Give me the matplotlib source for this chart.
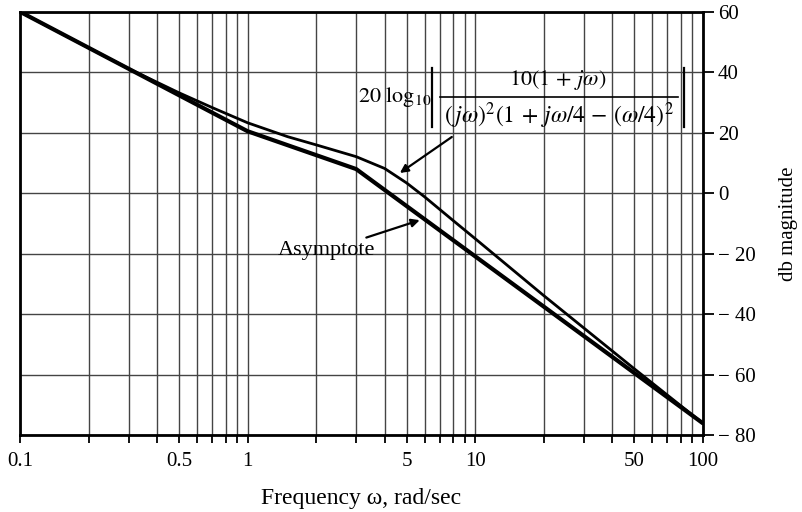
import matplotlib
matplotlib.use("Agg")
import matplotlib.pyplot as plt
from matplotlib.lines import Line2D
import numpy as np

plt.rcParams['font.family'] = ['Liberation Serif', 'DejaVu Serif']
plt.rcParams['mathtext.fontset'] = 'stix'

# Data
freq_actual = [0.1, 0.2, 0.3, 0.5, 0.7, 1, 1.5, 2, 3, 4, 5, 6, 8, 10, 20, 50, 100]
db_actual = [60, 48.1, 41.2, 33.2, 28.3, 23.3, 18.7, 16.0, 12.1, 8.2, 3.4, -1.2,
             -9.0, -15.0, -33.8, -58.0, -76.0]
freq_asym = [0.1, 1, 3, 100]
db_asym = [60, 20.5, 8.0, -76.0]

grid_x = [0.1, 0.2, 0.3, 0.4, 0.5, 0.6, 0.7, 0.8, 0.9,
          1, 2, 3, 4, 5, 6, 7, 8, 9,
          10, 20, 30, 40, 50, 60, 70, 80, 90, 100]
x_labels = {0.1: "0.1", 0.5: "0.5", 1: "1", 5: "5", 10: "10", 50: "50", 100: "100"}
y_ticks = [60, 40, 20, 0, -20, -40, -60, -80]
y_labels = ["60", "40", "20", "0", "\u2212 20", "\u2212 40", "\u2212 60", "\u2212 80"]

W, H = 803, 512
fig = plt.figure(figsize=(W / 100, H / 100), dpi=100)
ax = fig.add_axes([0.025, 0.150, 0.850, 0.827])
ax.set_xscale('log')
ax.set_xlim(0.1, 100)
ax.set_ylim(-80, 60)

ax.set_xticks(grid_x)
ax.set_xticklabels([x_labels.get(v, "") for v in grid_x])
ax.xaxis.set_minor_locator(matplotlib.ticker.NullLocator())
ax.set_yticks(y_ticks)
ax.set_yticklabels(y_labels)
ax.yaxis.tick_right()
ax.yaxis.set_label_position('right')

ax.tick_params(axis='x', direction='out', length=6, width=1.3, labelsize=15, pad=6)
ax.tick_params(axis='y', direction='out', length=8, width=1.3, labelsize=15, pad=3,
               left=False, right=True)
ax.grid(True, which='major', color='#444444', linewidth=1.0)
for s in ax.spines.values():
    s.set_linewidth(2.0)
    s.set_color('black')

ax.plot(freq_actual, db_actual, color='black', linewidth=2.0, solid_capstyle='round')
ax.plot(freq_asym, db_asym, color='black', linewidth=3.0, solid_capstyle='round')

ax.set_xlabel("Frequency \u03c9, rad/sec", fontsize=17, labelpad=12)
ax.set_ylabel("db magnitude", fontsize=15, labelpad=17)


def fx(px):
    return px / W


def fy(py):
    return 1 - py / H


# Formula annotation: 20 log10 | num / den |
fig.text(fx(395), fy(97), r"$20\ \log_{10}$", fontsize=16, ha='center', va='center')
fig.text(fx(558), fy(80), r"$10(1\,+\,j\omega)$", fontsize=16, ha='center', va='center')
fig.text(fx(559), fy(116), r"$(\,j\omega)^2(1\,+\,j\omega/4\,-\,(\omega/4)^2$",
         fontsize=17, ha='center', va='center')
fig.add_artist(Line2D([fx(440), fx(678)], [fy(97), fy(97)], color='black', lw=1.2))
for bx in (432, 684):
    fig.add_artist(Line2D([fx(bx), fx(bx)], [fy(68), fy(127)], color='black', lw=1.6))

ax.annotate('', xy=(4.67, 6.7), xytext=(7.9, 18.6),
            arrowprops=dict(arrowstyle='-|>', color='black', lw=1.6,
                            mutation_scale=12, shrinkA=0, shrinkB=0))
ax.annotate('Asymptote', xy=(5.71, -8.9), xytext=(3.62, -19.0),
            fontsize=16, ha='right', va='center',
            arrowprops=dict(arrowstyle='-|>', color='black', lw=1.6,
                            mutation_scale=12, shrinkA=2, shrinkB=0))

fig.savefig("out.png", dpi=100)
